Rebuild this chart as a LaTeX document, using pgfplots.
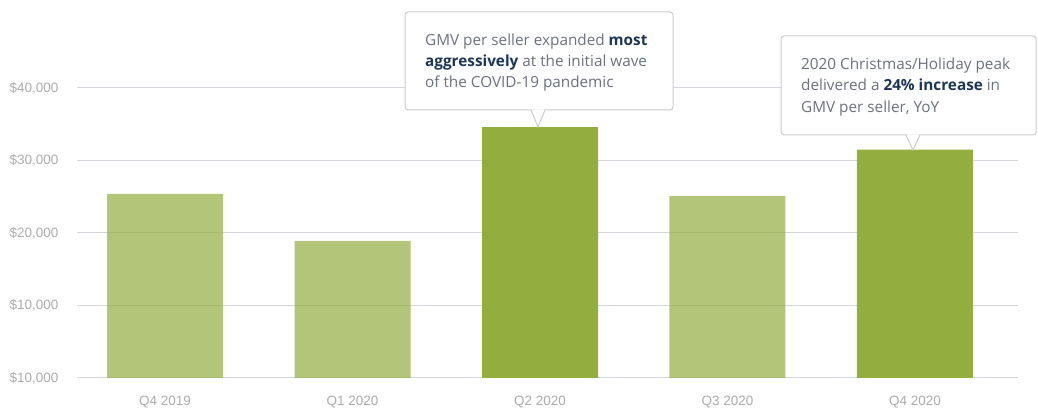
\documentclass[border=0pt]{standalone}
\usepackage{pgfplots}
\pgfplotsset{compat=1.18}
\usepackage{fontspec}
\setmainfont{Open Sans}
\newfontfamily\tickfont{Liberation Sans}
\definecolor{darkbar}{HTML}{93AD3F}
\definecolor{gridc}{HTML}{D3D6DC}
\definecolor{tickc}{HTML}{ABABAB}
\definecolor{txt}{HTML}{6C717C}
\definecolor{navy}{HTML}{1D3557}
\definecolor{boxc}{HTML}{C9CCD1}
\begin{document}
\begin{tikzpicture}[x=1pt,y=1pt]
\path[use as bounding box] (0,0) rectangle (1038,409);
\begin{axis}[
  at={(77pt,31pt)}, anchor=south west,
  scale only axis, width=941pt, height=290pt,
  xmin=-0.47, xmax=4.55, ymin=0, ymax=40000,
  clip=false,
  axis line style={draw=none},
  major tick length=0pt,
  ymajorgrids, grid style={gridc, line width=1pt},
  ytick={0,10000,20000,30000,40000},
  yticklabels={\$10{,}000,\$10{,}000,\$20{,}000,\$30{,}000,\$40{,}000},
  xtick={0,1,2,3,4},
  xticklabels={Q4 2019,Q1 2020,Q2 2020,Q3 2020,Q4 2020},
  tick label style={font=\tickfont\fontsize{13.5}{13.5}\selectfont, color=tickc},
  yticklabel style={xshift=-15pt},
  xticklabel style={yshift=-15pt},
  scaled y ticks=false,
  ybar, bar width=116pt,
]
\addplot[fill=darkbar, fill opacity=0.7, draw=none, bar shift=0pt] coordinates {(0,25400) (1,18900) (3,25100)};
\addplot[fill=darkbar, draw=none, bar shift=0pt] coordinates {(2,34600) (4,31500)};
\end{axis}
% callout 1
\draw[boxc, fill=white, line width=1pt, rounded corners=3pt] (405,299) rectangle (673,397);
\fill[white] (531,299.6) -- (538,282) -- (545,299.6) -- cycle;
\draw[boxc, line width=1pt] (531,299) -- (538,282) -- (545,299);
\begin{scope}[every node/.style={anchor=base west, inner sep=0pt, text=txt, font=\fontsize{15.3}{15.3}\selectfont}]
\node at (425,363) {GMV per seller expanded \textbf{\color{navy}most}};
\node at (425,342) {\textbf{\color{navy}aggressively} at the initial wave};
\node at (425,321) {of the COVID-19 pandemic};
\end{scope}
% callout 2
\draw[boxc, fill=white, line width=1pt, rounded corners=3pt] (781,274) rectangle (1036,373);
\fill[white] (906,274.6) -- (913,259) -- (920,274.6) -- cycle;
\draw[boxc, line width=1pt] (906,274) -- (913,259) -- (920,274);
\begin{scope}[every node/.style={anchor=base west, inner sep=0pt, text=txt, font=\fontsize{15.3}{15.3}\selectfont}]
\node at (801,339.5) {2020 Christmas/Holiday peak};
\node at (801,318) {delivered a \textbf{\color{navy}24\% increase} in};
\node at (801,296.5) {GMV per seller, YoY};
\end{scope}
\end{tikzpicture}
\end{document}
